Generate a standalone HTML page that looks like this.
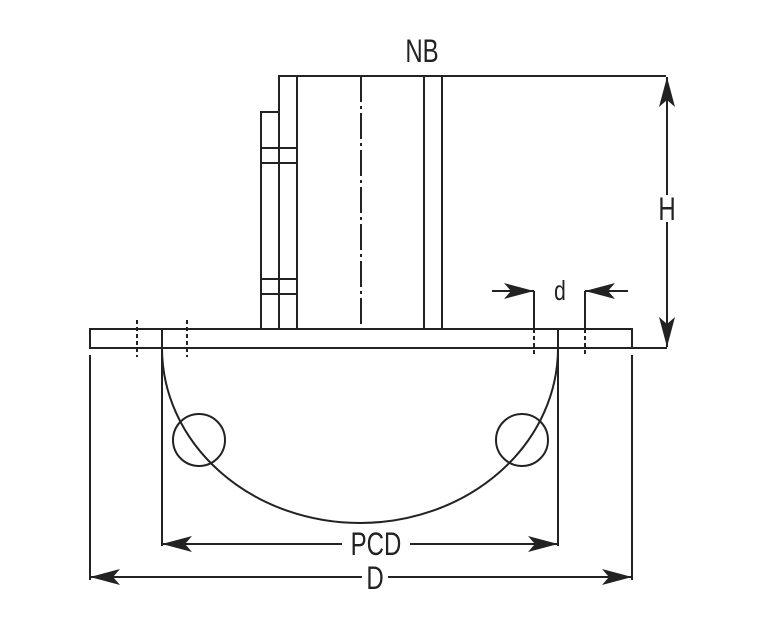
<!DOCTYPE html>
<html><head><style>body{margin:0;background:#fff}svg{display:block}</style></head><body>
<svg width="783" height="629" viewBox="0 0 783 629" xmlns="http://www.w3.org/2000/svg">
<defs>
<marker id="a" viewBox="0 0 30 16" refX="30" refY="8" markerWidth="30" markerHeight="16" markerUnits="userSpaceOnUse" orient="auto-start-reverse">
<path d="M0,0 L30,8 L0,16 L7,8 Z" fill="#222"/></marker>
</defs>
<g stroke="#222" stroke-width="2" fill="none">
<!-- pipe -->
<path d="M279,329 V76 H666"/>
<line x1="297" y1="76" x2="297" y2="329"/>
<line x1="424" y1="76" x2="424" y2="329"/>
<line x1="442" y1="76" x2="442" y2="329"/>
<path d="M261,329 V112 H279"/>
<line x1="261" y1="148" x2="297" y2="148"/>
<line x1="261" y1="163" x2="297" y2="163"/>
<line x1="261" y1="279" x2="297" y2="279"/>
<line x1="261" y1="294" x2="297" y2="294"/>
<line x1="361" y1="76" x2="361" y2="329" stroke-dasharray="26,4,3,4"/>
<!-- plate -->
<rect x="90" y="329" width="542" height="19"/>
<line x1="632" y1="348" x2="667" y2="348"/>
<!-- bolt dashes -->
<g stroke-dasharray="4,3">
<line x1="137" y1="320" x2="137" y2="357"/>
<line x1="187" y1="320" x2="187" y2="357"/>
<line x1="534" y1="329" x2="534" y2="357"/>
<line x1="585" y1="329" x2="585" y2="357"/>
</g>
<line x1="534" y1="291" x2="534" y2="329"/>
<line x1="585" y1="291" x2="585" y2="329"/>
<!-- arc -->
<line x1="162" y1="329" x2="162" y2="546"/>
<line x1="558" y1="329" x2="558" y2="546"/>
<path d="M162,348 A198,175 0 0 0 558,348"/>
<circle cx="199" cy="440" r="26"/>
<circle cx="522" cy="440" r="26"/>
<!-- D ext -->
<line x1="90" y1="355" x2="90" y2="580"/>
<line x1="632" y1="355" x2="632" y2="580"/>
<!-- dimensions -->
<line x1="162" y1="544" x2="342" y2="544" marker-start="url(#a)"/>
<line x1="410" y1="544" x2="558" y2="544" marker-end="url(#a)"/>
<line x1="90" y1="577" x2="362" y2="577" marker-start="url(#a)"/>
<line x1="388" y1="577" x2="632" y2="577" marker-end="url(#a)"/>
<line x1="667" y1="195" x2="667" y2="77" marker-end="url(#a)"/>
<line x1="667" y1="222" x2="667" y2="347" marker-end="url(#a)"/>
<line x1="492" y1="291" x2="534" y2="291" marker-end="url(#a)"/>
<line x1="628" y1="291" x2="585" y2="291" marker-end="url(#a)"/>
</g>
<g font-family="Liberation Sans, sans-serif" font-size="32" fill="#222" text-anchor="middle">
<text transform="translate(422,62) scale(0.75,1)">NB</text>
<text transform="translate(667,220) scale(0.75,1)">H</text>
<text transform="translate(560,300) scale(0.75,1)" font-size="28">d</text>
<text transform="translate(376,555) scale(0.75,1)">PCD</text>
<text transform="translate(375,589) scale(0.75,1)">D</text>
</g>
</svg>
</body></html>
